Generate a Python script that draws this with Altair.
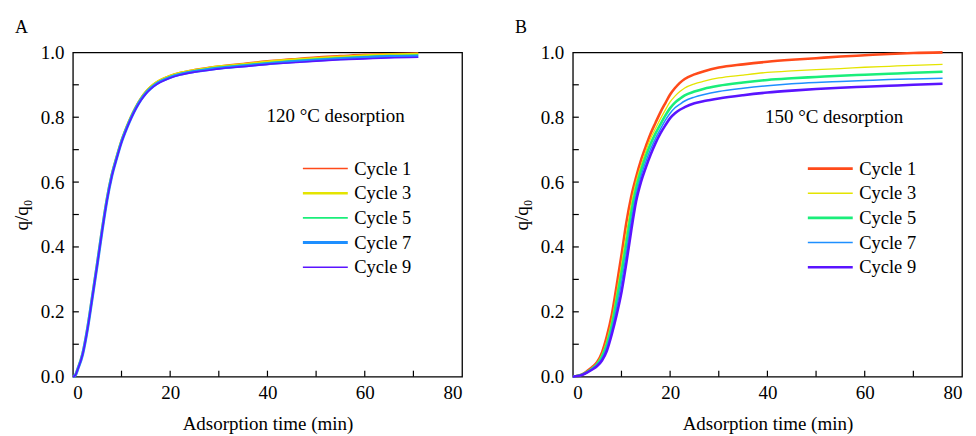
import altair as alt
import pandas as pd

cycles = ["Cycle 1", "Cycle 3", "Cycle 5", "Cycle 7", "Cycle 9"]
colors = ["#FF4A1A", "#E4E400", "#1AEE7A", "#1E8FFF", "#5A14FF"]
widths_a = [1.5, 2.6, 1.6, 3.0, 1.6]
widths_b = [2.6, 1.3, 2.6, 1.5, 2.6]

x_major = [0, 20, 40, 60, 80]
x_ticks = [10, 20, 30, 40, 50, 60, 70]
y_major = [0.0, 0.2, 0.4, 0.6, 0.8, 1.0]
y_ticks = [0.1, 0.2, 0.3, 0.4, 0.5, 0.6, 0.7, 0.8, 0.9]

# Panel A: 120 degC desorption
time_a = [0, 0.5, 1, 2, 3, 4, 5, 6, 7, 8, 9, 10, 11, 12, 13, 14, 15, 16, 17, 18,
          19, 20, 22, 25, 28, 30, 35, 40, 45, 50, 55, 60, 65, 71]
a_c1 = [0, 0.005, 0.025, 0.072, 0.15, 0.25, 0.35, 0.455, 0.55, 0.625, 0.68, 0.73, 0.77,
        0.805, 0.835, 0.86, 0.88, 0.895, 0.907, 0.916, 0.923, 0.929, 0.938, 0.947,
        0.954, 0.958, 0.966, 0.974, 0.98, 0.986, 0.99, 0.994, 0.996, 0.998]
a_c3 = [0, 0.005, 0.024, 0.071, 0.149, 0.248, 0.348, 0.453, 0.548, 0.623, 0.678, 0.728,
        0.768, 0.803, 0.833, 0.858, 0.878, 0.893, 0.905, 0.914, 0.921, 0.927, 0.936,
        0.945, 0.952, 0.956, 0.963, 0.971, 0.977, 0.982, 0.986, 0.99, 0.993, 0.995]
a_c5 = [0, 0.005, 0.023, 0.07, 0.148, 0.247, 0.347, 0.451, 0.546, 0.621, 0.676, 0.726,
        0.766, 0.801, 0.831, 0.856, 0.876, 0.891, 0.903, 0.912, 0.919, 0.925, 0.934,
        0.943, 0.95, 0.954, 0.961, 0.968, 0.974, 0.979, 0.983, 0.987, 0.99, 0.992]
a_c7 = [0, 0.004, 0.023, 0.069, 0.147, 0.245, 0.345, 0.449, 0.544, 0.619, 0.674, 0.724,
        0.764, 0.799, 0.829, 0.854, 0.874, 0.889, 0.901, 0.91, 0.917, 0.923, 0.932,
        0.941, 0.947, 0.951, 0.958, 0.965, 0.971, 0.976, 0.98, 0.984, 0.987, 0.988]
a_c9 = [0, 0.004, 0.022, 0.068, 0.145, 0.243, 0.343, 0.447, 0.542, 0.617, 0.672, 0.722,
        0.762, 0.797, 0.827, 0.852, 0.872, 0.887, 0.899, 0.908, 0.915, 0.921, 0.93,
        0.939, 0.945, 0.949, 0.956, 0.963, 0.968, 0.973, 0.977, 0.98, 0.983, 0.985]

# Panel B: 150 degC desorption
time_b = [0, 1, 2, 3, 4, 5, 6, 7, 8, 9, 10, 11, 12, 13, 14, 15, 16, 17, 18, 19, 20,
          21, 22, 23, 25, 27, 30, 35, 40, 45, 50, 55, 60, 65, 70, 76]
b_c1 = [0, 0.003, 0.008, 0.018, 0.03, 0.045, 0.075, 0.125, 0.19, 0.28, 0.375, 0.475,
        0.555, 0.615, 0.667, 0.71, 0.75, 0.783, 0.815, 0.843, 0.87, 0.89, 0.906, 0.918,
        0.932, 0.942, 0.953, 0.963, 0.971, 0.977, 0.982, 0.987, 0.991, 0.995, 0.998, 1.0]
b_c3 = [0, 0.003, 0.007, 0.016, 0.027, 0.042, 0.068, 0.112, 0.172, 0.255, 0.345, 0.44,
        0.53, 0.6, 0.65, 0.695, 0.735, 0.765, 0.795, 0.822, 0.847, 0.865, 0.879, 0.89,
        0.903, 0.911, 0.921, 0.93, 0.938, 0.943, 0.947, 0.95, 0.954, 0.957, 0.96, 0.963]
b_c5 = [0, 0.003, 0.007, 0.015, 0.025, 0.039, 0.062, 0.1, 0.157, 0.235, 0.32, 0.41,
        0.505, 0.58, 0.635, 0.68, 0.718, 0.75, 0.778, 0.805, 0.828, 0.845, 0.857, 0.867,
        0.879, 0.888, 0.897, 0.907, 0.915, 0.92, 0.924, 0.928, 0.931, 0.934, 0.937, 0.94]
b_c7 = [0, 0.002, 0.006, 0.014, 0.024, 0.036, 0.056, 0.09, 0.143, 0.212, 0.29, 0.38,
        0.478, 0.56, 0.618, 0.663, 0.702, 0.735, 0.763, 0.79, 0.812, 0.829, 0.84, 0.85,
        0.862, 0.87, 0.879, 0.889, 0.897, 0.903, 0.907, 0.91, 0.913, 0.916, 0.918, 0.92]
b_c9 = [0, 0.002, 0.006, 0.013, 0.022, 0.033, 0.05, 0.08, 0.13, 0.19, 0.26, 0.35,
        0.45, 0.54, 0.6, 0.645, 0.685, 0.72, 0.75, 0.775, 0.797, 0.812, 0.823, 0.831,
        0.843, 0.85, 0.858, 0.868, 0.876, 0.882, 0.887, 0.891, 0.894, 0.897, 0.9, 0.903]

FONT = "Liberation Serif"
W, H = 390, 325


def long_df(time, series):
    rows = []
    for name, vals in zip(cycles, series):
        for t, v in zip(time, vals):
            rows.append({"t": t, "q": v, "cycle": name})
    return pd.DataFrame(rows)


def panel(df, widths, letter, note, note_x, note_y, leg_x, leg_y):
    xs = alt.Scale(domain=[0, 80], nice=False, zero=False)
    ys = alt.Scale(domain=[0, 1], nice=False, zero=False)
    common = dict(labelFont=FONT, titleFont=FONT, labelFontSize=19, titleFontSize=19,
                  labelColor="black", titleColor="black", titleFontWeight="normal",
                  grid=False, domain=False, ticks=False)
    xaxis = alt.Axis(values=x_major, title="Adsorption time (min)",
                     format="d", labelPadding=7, titlePadding=12, **common)
    yaxis = alt.Axis(values=y_major, title="q/q₀", format=".1f",
                     labelPadding=9, titlePadding=9, **common)
    leg = alt.Legend(
        title=None, orient="none", legendX=leg_x, legendY=leg_y,
        symbolType="stroke", symbolSize=2025, clipHeight=20, rowPadding=4.7,
        labelFont=FONT, labelFontSize=18.5, labelColor="black", labelOffset=5,
        padding=0,
    )
    lines = alt.Chart(df).mark_line(interpolate="monotone").encode(
        x=alt.X("t:Q", scale=xs, axis=xaxis),
        y=alt.Y("q:Q", scale=ys, axis=yaxis),
        color=alt.Color("cycle:N", scale=alt.Scale(type="ordinal", domain=cycles, range=colors),
                        legend=leg),
        strokeWidth=alt.StrokeWidth("cycle:N",
                                    scale=alt.Scale(type="ordinal", domain=cycles, range=widths),
                                    legend=leg),
        order=alt.Order("cycle:N"),
    )
    xt = alt.Chart(pd.DataFrame({"t": x_ticks})).mark_rule(color="black", strokeWidth=1.2).encode(
        x=alt.X("t:Q", scale=xs, axis=xaxis), y=alt.value(H), y2=alt.value(H - 6))
    yt = alt.Chart(pd.DataFrame({"q": y_ticks})).mark_rule(color="black", strokeWidth=1.2).encode(
        y=alt.Y("q:Q", scale=ys, axis=yaxis), x=alt.value(0), x2=alt.value(6))
    txt = alt.Chart(pd.DataFrame({"t": [note_x], "q": [note_y], "s": [note]})).mark_text(
        font=FONT, fontSize=19, align="left", baseline="middle", color="black").encode(
        x=alt.X("t:Q", scale=xs, axis=xaxis), y=alt.Y("q:Q", scale=ys, axis=yaxis), text="s:N")
    let = alt.Chart(pd.DataFrame({"s": [letter]})).mark_text(
        font=FONT, fontSize=18, align="left", baseline="top", color="black").encode(
        x=alt.value(-58), y=alt.value(-33), text="s:N")
    return alt.layer(lines, xt, yt, txt, let).properties(width=W, height=H)


df_a = long_df(time_a, [a_c1, a_c3, a_c5, a_c7, a_c9])
df_b = long_df(time_b, [b_c1, b_c3, b_c5, b_c7, b_c9])

pa = panel(df_a, widths_a, "A", "120 °C desorption", 39.8, 0.805, 229, 106.5)
pb = panel(df_b, widths_b, "B", "150 °C desorption", 39.5, 0.80, 234, 106.5)

chart = alt.hconcat(pa, pb, spacing=48).resolve_scale(
    color="independent", strokeWidth="independent"
).resolve_legend(
    color="independent", strokeWidth="independent"
).properties(
    padding={"left": 3, "top": 10, "right": 5, "bottom": 0}
).configure_axis(
    labelFont=FONT, titleFont=FONT, labelFontSize=19, titleFontSize=19,
    labelColor="black", titleColor="black", titleFontWeight="normal",
    grid=False, domain=False, ticks=False,
).configure_text(
    font=FONT
).configure_view(
    stroke="black", strokeWidth=1.3
)

chart.save("out.html", embed_options={"renderer": "svg", "actions": False})
